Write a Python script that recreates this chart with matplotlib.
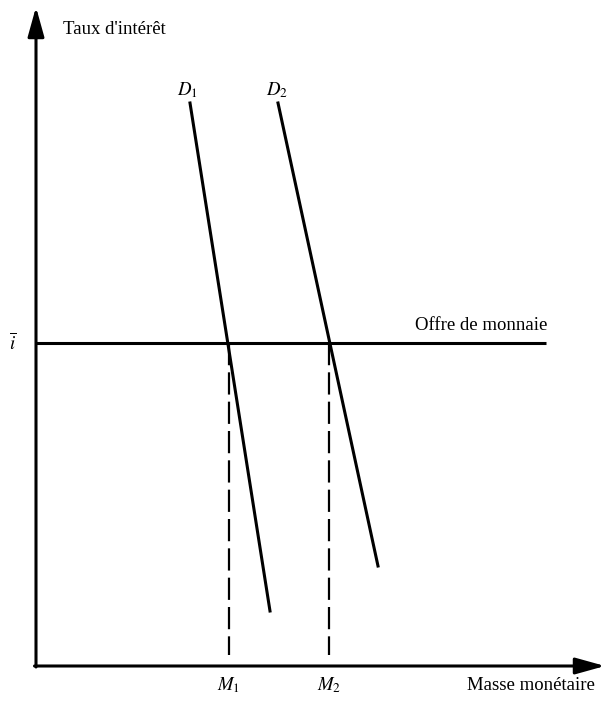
import matplotlib.pyplot as plt

# données (unités du graphique : origine au croisement des axes)
taux_bar = 323                    # niveau du taux d'intérêt fixé (offre de monnaie)
offre_x = [0, 510]

d1_x = [154, 234]
d1_y = [563, 55]
d2_x = [242, 342]
d2_y = [563, 100]

masses = [193, 293]               # M1, M2
masse_labels = ['$M_1$', '$M_2$']
demande_labels = ['$D_1$', '$D_2$']

plt.rcParams['font.family'] = ['Liberation Serif', 'DejaVu Serif']
plt.rcParams['mathtext.fontset'] = 'stix'

fig = plt.figure(figsize=(6.05, 7.03), dpi=100)
ax = fig.add_axes([0, 0, 1, 1])
ax.set_xlim(-36, 569)
ax.set_ylim(-37, 666)
ax.axis('off')

# axes avec flèches
arrow = dict(arrowstyle='-|>,head_length=0.9,head_width=0.25', lw=2.2, color='black',
             mutation_scale=20, shrinkA=0, shrinkB=0)
ax.annotate('', xy=(0, 659), xytext=(0, -1), arrowprops=arrow)
ax.annotate('', xy=(569, 0), xytext=(-1.5, 0), arrowprops=arrow)

# offre de monnaie
ax.plot(offre_x, [taux_bar, taux_bar], color='black', lw=2.2, solid_capstyle='butt')

# courbes de demande
ax.plot(d1_x, d1_y, color='black', lw=2.2)
ax.plot(d2_x, d2_y, color='black', lw=2.2)

# pointillés vers M1, M2
for m in masses:
    ax.plot([m, m], [taux_bar, 11], color='black', lw=1.6, dashes=(10, 3.2))

# textes
fs = 13.5
ax.text(27, 636, "Taux d'intérêt", fontsize=fs, ha='left', va='center')
ax.text(d1_x[0] - 3, 576, demande_labels[0], fontsize=fs, ha='center', va='center')
ax.text(d2_x[0] - 1, 576, demande_labels[1], fontsize=fs, ha='center', va='center')
ax.text(511, taux_bar + 18, 'Offre de monnaie', fontsize=fs, ha='right', va='center')
ax.text(-23, taux_bar, r'$\overline{i}$', fontsize=fs, ha='center', va='center')
for m, lab in zip(masses, masse_labels):
    ax.text(m, -19, lab, fontsize=fs, ha='center', va='center')
ax.text(559, -19, 'Masse monétaire', fontsize=fs, ha='right', va='center')

fig.savefig('out.png', dpi=100)
